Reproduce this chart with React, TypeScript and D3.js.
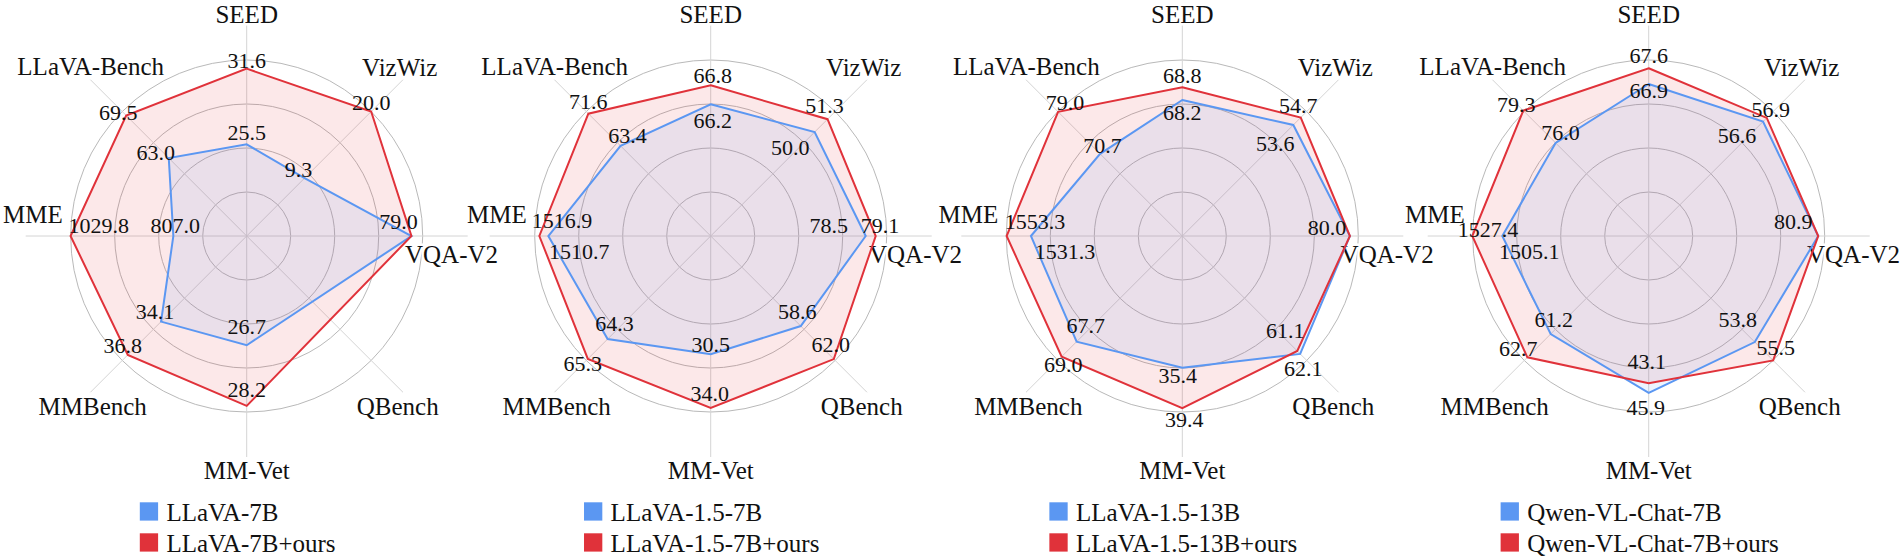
import { useEffect, useRef } from "react";
import * as d3 from "d3";

const axes = ["SEED", "VizWiz", "VQA-V2", "QBench", "MM-Vet", "MMBench", "MME", "LLaVA-Bench"];

const models = ["LLaVA-7B", "LLaVA-1.5-7B", "LLaVA-1.5-13B", "Qwen-VL-Chat-7B"];

// values in axis order, null = not reported
const base1 = [25.5, 9.3, 79.0, null, 26.7, 34.1, 807.0, 63.0];
const ours1 = [31.6, 20.0, 79.0, null, 28.2, 36.8, 1029.8, 69.5];
const base2 = [66.2, 50.0, 78.5, 58.6, 30.5, 64.3, 1510.7, 63.4];
const ours2 = [66.8, 51.3, 79.1, 62.0, 34.0, 65.3, 1516.9, 71.6];
const base3 = [68.2, 53.6, 80.0, 62.1, 35.4, 67.7, 1531.3, 70.7];
const ours3 = [68.8, 54.7, 80.0, 61.1, 39.4, 69.0, 1553.3, 79.0];
const base4 = [66.9, 56.6, 80.9, 53.8, 45.9, 61.2, 1505.1, 76.0];
const ours4 = [67.6, 56.9, 80.9, 55.5, 43.1, 62.7, 1527.4, 79.3];

// radial range of each axis (indicator min / max)
const domains1 = [[18.1, 32.3], [0, 20], [60, 80.3], [0, 1], [24, 28.35], [27.15, 37.25], [648, 1029.5], [51.1, 70.1]];
const domains2 = [[62.04, 67.6], [39.5, 52.07], [69.2, 79.76], [49.33, 62.14], [22.79, 34.26], [59.09, 65.38], [1398.9, 1520.1], [40.42, 72.14]];
const domains3 = [[61.78, 70.09], [37.16, 55.59], [60, 81], [21.44, 64.37], [22.33, 39.79], [58.53, 69.33], [1394.3, 1553.6], [54.46, 79.05]];
const domains4 = [[60.12, 67.97], [47.45, 57.41], [60, 81.7], [43.99, 55.5], [0, 51.5], [54.9, 62.9], [1396.3, 1527.1], [66.5, 79.2]];

// value label nudges [dx, baseline dy] relative to the point
const baseNudge1 = [[0, -4], [-6, -1.5], [-13, -6.7], [0, 0], [0, -11.7], [-6, -2.4], [2, -2.7], [-13, 2.3]];
const oursNudge1 = [[0, -0.6], [0, -1.7], [-13, -6.7], [0, 0], [0, -9.3], [-5, -1.7], [28.3, -2.7], [-8, 4.3]];
const baseNudge2 = [[2, 24], [-24.5, 22.7], [-37, -3.3], [-3.5, -6.7], [0, -2.6], [7, -7.7], [31, 23.3], [7, -2.4]];
const oursNudge2 = [[2, -2.6], [-3, -5.7], [4.4, -3.3], [-3, -7.4], [-1, -6.7], [-5, 12.4], [22.7, -7.7], [0, -4.3]];
const baseNudge3 = [[0, 20], [-18, 26], [-23, -1], [3, 22], [-4.5, 15.6], [9, -8.7], [34, 23.3], [2.5, -0.7]];
const oursNudge3 = [[0, -4], [-2.6, -5], [-23, -1], [-12, -13.4], [2, 19.3], [1.7, 15.7], [28.3, -6.7], [7, -1.7]];
const baseNudge4 = [[0, 14.3], [-26, 21.6], [-25, -6.7], [-17, -15.4], [-3, 22.3], [3, -6.7], [27, 23.3], [5, -2.6]];
const oursNudge4 = [[0, -5.6], [4, -1.4], [-25, -6.7], [2.5, -5], [-2, -14], [-9, -1.3], [15.7, 1.3], [-7, 1.6]];

// axis name placement relative to chart centre [dx, baseline dy, anchor]
const axisLabelPos: [number, number, string][] = [
  [0, -212.7, "middle"],
  [153, -160, "middle"],
  [158.3, 27.3, "start"],
  [151, 179, "middle"],
  [0, 243.3, "middle"],
  [-154, 179, "middle"],
  [-184, -12.7, "end"],
  [-156, -161, "middle"],
];

const charts = [
  { model: models[0], base: base1, ours: ours1, domains: domains1, baseNudge: baseNudge1, oursNudge: oursNudge1 },
  { model: models[1], base: base2, ours: ours2, domains: domains2, baseNudge: baseNudge2, oursNudge: oursNudge2 },
  { model: models[2], base: base3, ours: ours3, domains: domains3, baseNudge: baseNudge3, oursNudge: oursNudge3 },
  { model: models[3], base: base4, ours: ours4, domains: domains4, baseNudge: baseNudge4, oursNudge: oursNudge4 },
];

const centersX = [246.7, 710.7, 1182.3, 1648.7];
const cy = 236;
const R = 176;
const spokeR = 221;
const blue = "#5b97f2";
const red = "#e0323a";
const font = "Liberation Serif, DejaVu Serif, serif";

function drawRadar(g: any, c: any) {
  const n = axes.length;
  const angle = (i: number) => (i * 2 * Math.PI) / n;
  const scales = c.domains.map((d: number[]) => d3.scaleLinear().domain(d).range([0, R]));
  const fmt = d3.format(".1f");

  g.selectAll(".ring")
    .data(d3.range(1, 5))
    .join("circle")
    .attr("class", "ring")
    .attr("r", (d: number) => (R * d) / 4)
    .attr("fill", "none")
    .attr("stroke", "#b9b9b9")
    .attr("stroke-width", 1);

  g.selectAll(".spoke")
    .data(axes)
    .join("line")
    .attr("class", "spoke")
    .attr("x2", (_: any, i: number) => spokeR * Math.sin(angle(i)))
    .attr("y2", (_: any, i: number) => -spokeR * Math.cos(angle(i)))
    .attr("stroke", "#d4d4d4")
    .attr("stroke-width", 1);

  g.selectAll(".axis-label")
    .data(axes)
    .join("text")
    .attr("class", "axis-label")
    .attr("x", (_: any, i: number) => axisLabelPos[i][0])
    .attr("y", (_: any, i: number) => axisLabelPos[i][1])
    .attr("text-anchor", (_: any, i: number) => axisLabelPos[i][2])
    .attr("font-family", font)
    .attr("font-size", 25)
    .attr("fill", "#111")
    .attr("stroke", "#fff")
    .attr("stroke-width", 5)
    .attr("paint-order", "stroke")
    .text((d: string) => d);

  const points = (vals: (number | null)[]) =>
    vals
      .map((v, i) => ({ v, i }))
      .filter((p) => p.v !== null)
      .map((p) => ({ ...p, r: scales[p.i](p.v as number) }));

  const line = d3
    .lineRadial<any>()
    .angle((p) => angle(p.i))
    .radius((p) => p.r)
    .curve(d3.curveLinearClosed);

  const series = [
    { vals: c.ours, color: red, fill: "rgba(224,50,58,0.11)", nudge: c.oursNudge, other: null },
    { vals: c.base, color: blue, fill: "rgba(91,151,242,0.11)", nudge: c.baseNudge, other: c.ours },
  ];

  series.forEach((s) => {
    g.append("path").attr("d", line(points(s.vals))).attr("fill", s.fill).attr("stroke", "none");
  });
  [series[1], series[0]].forEach((s) => {
    g.append("path")
      .attr("d", line(points(s.vals)))
      .attr("fill", "none")
      .attr("stroke", s.color)
      .attr("stroke-width", 2)
      .attr("stroke-linejoin", "miter");
  });

  series.forEach((s) => {
    // a value equal to the other series would print the same label twice
    const pts = points(s.vals).filter((p) => !s.other || s.other[p.i] !== p.v);
    g.append("g")
      .selectAll("text")
      .data(pts)
      .join("text")
      .attr("x", (p: any) => p.r * Math.sin(angle(p.i)) + s.nudge[p.i][0])
      .attr("y", (p: any) => -p.r * Math.cos(angle(p.i)) + s.nudge[p.i][1])
      .attr("text-anchor", "middle")
      .attr("font-family", font)
      .attr("font-size", 22)
      .attr("fill", "#111")
      .text((p: any) => fmt(p.v));
  });

  // legend
  const legend = g.append("g");
  const entries = [
    { name: c.model, color: blue },
    { name: c.model + "+ours", color: red },
  ];
  const sq = 18.3;
  const rows = legend
    .selectAll("g")
    .data(entries)
    .join("g")
    .attr("transform", (_: any, i: number) => `translate(0,${266.3 + i * 31})`);
  rows.append("rect").attr("width", sq).attr("height", sq).attr("fill", (d: any) => d.color);
  const texts = rows
    .append("text")
    .attr("x", sq + 8.3)
    .attr("y", sq)
    .attr("font-family", font)
    .attr("font-size", 25)
    .attr("fill", "#111")
    .text((d: any) => d.name);
  let maxW = 0;
  texts.each(function (this: SVGTextElement) {
    maxW = Math.max(maxW, this.getComputedTextLength());
  });
  const total = sq + 8.3 + maxW;
  legend.attr("transform", `translate(${-total / 2 - 9},0)`);
}

export default function App() {
  const ref = useRef<SVGSVGElement>(null);

  useEffect(() => {
    document.body.style.margin = "0";
    const svg = d3.select(ref.current);
    svg.selectAll("*").remove();
    charts.forEach((c, k) => {
      const g = svg.append("g").attr("transform", `translate(${centersX[k]},${cy})`);
      drawRadar(g, c);
    });
  }, []);

  return <svg ref={ref} width={1903} height={557} style={{ display: "block", background: "#fff" }} />;
}
